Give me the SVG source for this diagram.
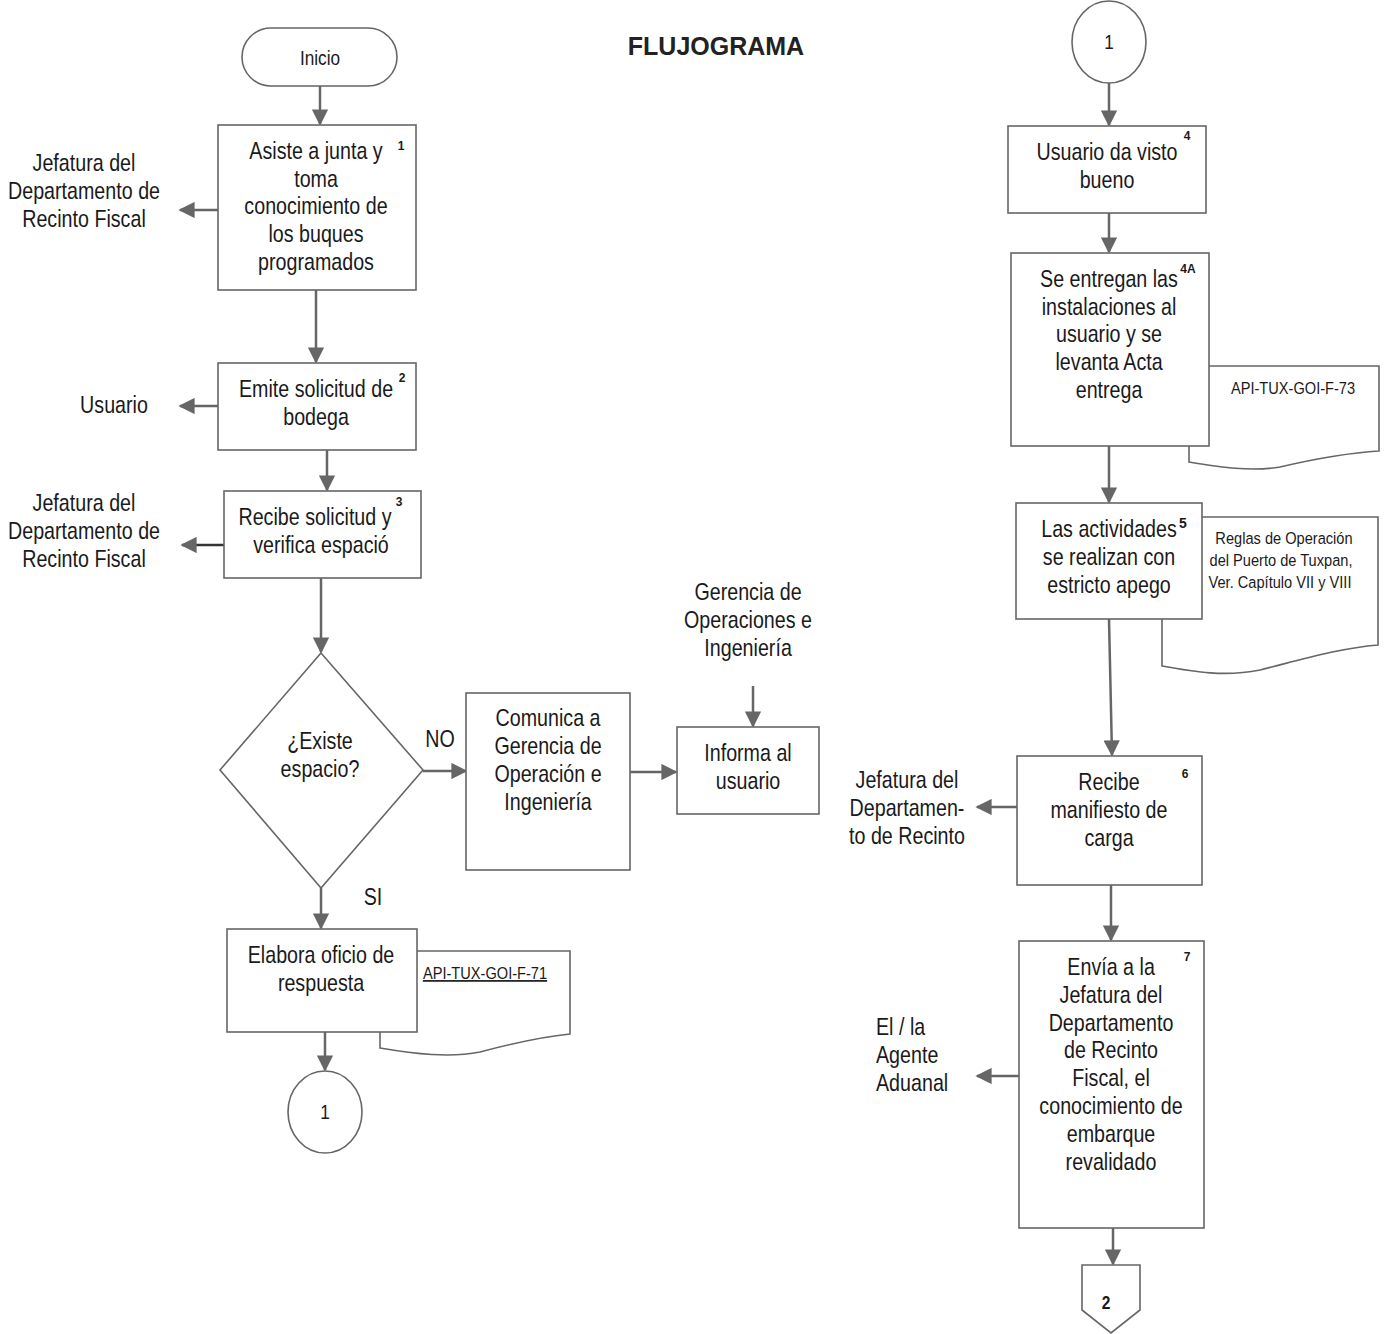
<svg xmlns="http://www.w3.org/2000/svg" width="1387" height="1334" viewBox="0 0 1387 1334">
<defs>
<marker id="ah" viewBox="0 0 10 10" refX="9" refY="5" markerWidth="7.5" markerHeight="6.5" markerUnits="strokeWidth" orient="auto">
<path d="M0,0 L10,5 L0,10 z" fill="#666"/>
</marker>
<style>
text{font-family:"Liberation Sans",Arial,sans-serif;fill:#1a1a1a;}
.t,.tl,.d{transform-box:fill-box;}
.t,.tl{font-size:24px;transform:scaleX(0.82);}
.t{text-anchor:middle;transform-origin:center;}
.tl{transform-origin:left center;}
.s{font-size:12px;text-anchor:middle;font-weight:bold;}
.d{font-size:17px;text-anchor:middle;transform-origin:center;transform:scaleX(0.86);}
.box{fill:#fff;stroke:#666;stroke-width:1.6;}
.doc{fill:none;stroke:#666;stroke-width:1.6;}
.c{stroke:#666;stroke-width:2.5;fill:none;marker-end:url(#ah);}
</style>
</defs>
<rect width="1387" height="1334" fill="#fff"/>
<text x="716" y="55" style="font-size:25px;font-weight:bold;text-anchor:middle;fill:#222">FLUJOGRAMA</text>

<g id="connectors">
<line class="c" x1="320" y1="86" x2="320" y2="124"/>
<line class="c" x1="218" y1="210" x2="180" y2="210"/>
<line class="c" x1="316" y1="290" x2="316" y2="362"/>
<line class="c" x1="218" y1="406" x2="180" y2="406"/>
<line class="c" x1="327" y1="450" x2="327" y2="490"/>
<line class="c" x1="224" y1="545" x2="182" y2="545" style="stroke:#333"/>
<line class="c" x1="321" y1="578" x2="321" y2="652"/>
<line class="c" x1="423" y1="771" x2="466" y2="771"/>
<line class="c" x1="630" y1="772" x2="676" y2="772"/>
<line class="c" x1="753" y1="686" x2="753" y2="726"/>
<line class="c" x1="321" y1="888" x2="321" y2="928"/>
<line class="c" x1="325" y1="1032" x2="325" y2="1070"/>
<line class="c" x1="1109" y1="83" x2="1109" y2="125"/>
<line class="c" x1="1109" y1="213" x2="1109" y2="252"/>
<line class="c" x1="1109" y1="446" x2="1109" y2="502"/>
<line class="c" x1="1109" y1="619" x2="1112" y2="755"/>
<line class="c" x1="1017" y1="807" x2="977" y2="807"/>
<line class="c" x1="1111" y1="885" x2="1111" y2="940"/>
<line class="c" x1="1019" y1="1076" x2="977" y2="1076"/>
<line class="c" x1="1113" y1="1228" x2="1113" y2="1264"/>
</g>

<g id="inicio">
<rect class="box" x="242" y="28" width="155" height="58" rx="29"/>
<text class="t" x="320" y="65" style="font-size:21px">Inicio</text>
</g>

<g id="paso1">
<rect class="box" x="218" y="125" width="198" height="165"/>
<text class="t" x="316" y="159">Asiste a junta y</text>
<text class="t" x="316" y="187">toma</text>
<text class="t" x="316" y="214">conocimiento de</text>
<text class="t" x="316" y="242">los buques</text>
<text class="t" x="316" y="270">programados</text>
<text class="s" x="401" y="150">1</text>
</g>
<g id="lbl1">
<text class="t" x="84" y="171">Jefatura del</text>
<text class="t" x="84" y="199">Departamento de</text>
<text class="t" x="84" y="227">Recinto Fiscal</text>
</g>

<g id="paso2">
<rect class="box" x="218" y="363" width="198" height="87"/>
<text class="t" x="316" y="397">Emite solicitud de</text>
<text class="t" x="316" y="425">bodega</text>
<text class="s" x="402" y="382">2</text>
</g>
<g id="lbl2"><text class="t" x="114" y="413">Usuario</text></g>

<g id="paso3">
<rect class="box" x="224" y="491" width="197" height="87"/>
<text class="t" x="315" y="525">Recibe solicitud y</text>
<text class="t" x="321" y="553">verifica espació</text>
<text class="s" x="399" y="506">3</text>
</g>
<g id="lbl3">
<text class="t" x="84" y="511">Jefatura del</text>
<text class="t" x="84" y="539">Departamento de</text>
<text class="t" x="84" y="567">Recinto Fiscal</text>
</g>

<g id="decision">
<polygon class="box" points="321,653 423,770 321,888 220,770"/>
<text class="t" x="320" y="749">¿Existe</text>
<text class="t" x="320" y="777">espacio?</text>
</g>
<text class="t" x="440" y="747">NO</text>
<text class="t" x="373" y="905">SI</text>

<g id="comunica">
<rect class="box" x="466" y="693" width="164" height="177"/>
<text class="t" x="548" y="726">Comunica a</text>
<text class="t" x="548" y="754">Gerencia de</text>
<text class="t" x="548" y="782">Operación e</text>
<text class="t" x="548" y="810">Ingeniería</text>
</g>

<g id="informa">
<rect class="box" x="677" y="727" width="142" height="87"/>
<text class="t" x="748" y="761">Informa al</text>
<text class="t" x="748" y="789">usuario</text>
</g>
<g id="lblGerencia">
<text class="t" x="748" y="600">Gerencia de</text>
<text class="t" x="748" y="628">Operaciones e</text>
<text class="t" x="748" y="656">Ingeniería</text>
</g>

<g id="elabora">
<path class="doc" d="M417,951 H570 V1034 C540,1037 510,1044 480,1052 C450,1058 415,1054 380,1048 V1032"/>
<rect class="box" x="227" y="929" width="190" height="103"/>
<text class="t" x="321" y="963">Elabora oficio de</text>
<text class="t" x="321" y="991">respuesta</text>
<text class="d" x="485" y="979" style="text-decoration:underline">API-TUX-GOI-F-71</text>
</g>

<g id="conector1a">
<ellipse class="box" cx="325" cy="1112" rx="37" ry="41"/>
<text class="t" x="325" y="1119" style="font-size:21px">1</text>
</g>

<g id="conector1b">
<ellipse class="box" cx="1109" cy="42" rx="37" ry="41"/>
<text class="t" x="1109" y="49" style="font-size:21px">1</text>
</g>

<g id="paso4">
<rect class="box" x="1008" y="126" width="198" height="87"/>
<text class="t" x="1107" y="160">Usuario da visto</text>
<text class="t" x="1107" y="188">bueno</text>
<text class="s" x="1187" y="140">4</text>
</g>

<g id="paso4a">
<path class="doc" d="M1209,366 H1379 V451 C1345,453 1310,460 1280,467 C1250,472 1220,467 1189,462 V446"/>
<rect class="box" x="1011" y="253" width="198" height="193"/>
<text class="t" x="1109" y="287">Se entregan las</text>
<text class="t" x="1109" y="315">instalaciones al</text>
<text class="t" x="1109" y="342">usuario y se</text>
<text class="t" x="1109" y="370">levanta Acta</text>
<text class="t" x="1109" y="398">entrega</text>
<text class="s" x="1188" y="273">4A</text>
<text class="d" x="1293" y="394">API-TUX-GOI-F-73</text>
</g>

<g id="paso5">
<path class="doc" d="M1202,517 H1378 V645 C1340,648 1300,660 1260,670 C1225,677 1195,672 1162,666 V619"/>
<rect class="box" x="1016" y="503" width="186" height="116"/>
<text class="t" x="1109" y="537">Las actividades</text>
<text class="t" x="1109" y="565">se realizan con</text>
<text class="t" x="1109" y="593">estricto apego</text>
<text class="s" x="1183" y="528" style="font-size:14px">5</text>
<text class="d" x="1284" y="544">Reglas de Operación</text>
<text class="d" x="1281" y="566">del Puerto de Tuxpan,</text>
<text class="d" x="1280" y="588">Ver. Capítulo VII  y VIII</text>
</g>

<g id="paso6">
<rect class="box" x="1017" y="756" width="185" height="129"/>
<text class="t" x="1109" y="790">Recibe</text>
<text class="t" x="1109" y="818">manifiesto de</text>
<text class="t" x="1109" y="846">carga</text>
<text class="s" x="1185" y="778">6</text>
</g>
<g id="lbl6">
<text class="t" x="907" y="788">Jefatura del</text>
<text class="t" x="907" y="816">Departamen-</text>
<text class="t" x="907" y="844">to de Recinto</text>
</g>

<g id="paso7">
<rect class="box" x="1019" y="941" width="185" height="287"/>
<text class="t" x="1111" y="975">Envía a la</text>
<text class="t" x="1111" y="1003">Jefatura del</text>
<text class="t" x="1111" y="1031">Departamento</text>
<text class="t" x="1111" y="1058">de Recinto</text>
<text class="t" x="1111" y="1086">Fiscal, el</text>
<text class="t" x="1111" y="1114">conocimiento de</text>
<text class="t" x="1111" y="1142">embarque</text>
<text class="t" x="1111" y="1170">revalidado</text>
<text class="s" x="1187" y="961">7</text>
</g>
<g id="lbl7">
<text class="tl" x="876" y="1035">El / la</text>
<text class="tl" x="876" y="1063">Agente</text>
<text class="tl" x="876" y="1091">Aduanal</text>
</g>

<g id="conector2">
<polygon class="box" points="1082,1265 1140,1265 1140,1310 1111,1333 1082,1310"/>
<text class="t" x="1106" y="1309" style="font-size:19px;font-weight:bold">2</text>
</g>
</svg>
